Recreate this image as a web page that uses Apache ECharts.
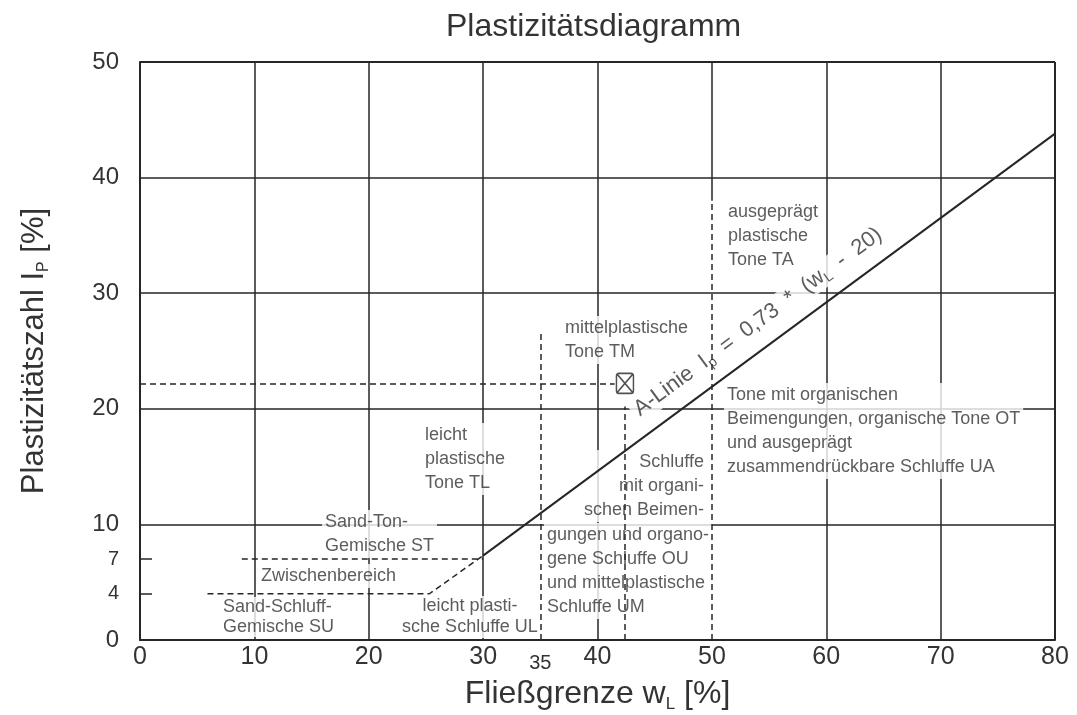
<!DOCTYPE html>
<html><head><meta charset="utf-8">
<script src="https://cdn.jsdelivr.net/npm/echarts@6/dist/echarts.min.js"></script>
<style>html,body{margin:0;padding:0;background:#fff}#c{width:1077px;height:715px}</style>
</head><body><div id="c"></div>
<script>
// ---- data ----
const xTickValues = [0, 10, 20, 30, 35, 40, 50, 60, 70, 80];
const yTickValues = [0, 4, 7, 10, 20, 30, 40, 50];
const yMinorTicks = [4, 7];
const vGridX = [10, 20, 30, 40, 60, 70];
const hGridY = [10, 20, 30, 40];
const xRange = [0, 80];
const yRange = [0, 50];
// A-Linie  I_p = 0,73 * (w_L - 20)
const aLineWL = [30, 80];
const aLineIp = [7.3, 43.8];
// Zwischenbereich boundaries (dashed)
const zwUpperWL = [8.9, 30];
const zwUpperIp = [7, 7];
const zwLowerWL = [5.9, 25.3, 30];
const zwLowerIp = [4, 4, 7.3];
// dashed vertical limits: w_L and upper end
const dashedVertWL = [35, 50];
const dashedVertTop = [26.7, 38];
// solid upper part of the w_L = 50 grid line
const grid50From = 38, grid50To = 50;
// sample point
const sampleWL = [42.4];
const sampleIp = [22.2];

const annotations = [
  { text: 'ausgeprägt\nplastische\nTone TA', x: 51.15, y: 38.06, align: 'left' },
  { text: 'mittelplastische\nTone TM', x: 36.9, y: 28.03, align: 'left' },
  { text: 'Tone mit organischen\nBeimengungen, organische Tone OT\nund ausgeprägt\nzusammendrückbare Schluffe UA', x: 51.06, y: 22.23, align: 'left' },
  { text: 'leicht\nplastische\nTone TL', x: 24.66, y: 18.77, align: 'left' },
  { text: 'Schluffe\nmit organi-\nschen Beimen-', x: 49.57, y: 16.44, align: 'right' },
  { text: 'gungen und organo-\ngene Schluffe OU\nund mittelplastische\nSchluffe UM', x: 35.32, y: 10.12, align: 'left' },
  { text: 'Sand-Ton-\nGemische ST', x: 15.91, y: 11.25, align: 'left' },
  { text: 'Zwischenbereich', x: 10.32, y: 6.57, align: 'left' },
  { text: 'Sand-Schluff-\nGemische SU', x: 6.99, y: 3.72, align: 'left', lh: 20 },
  { text: 'leicht plasti-\nsche Schluffe UL', x: 28.85, y: 3.81, align: 'center', lh: 21 }
];
const aLabelPos = [54.03, 27.51];

// ---- styles ----
const LINE = '#262626';
const TEXT = '#333';
const FONT = '"Liberation Sans", Arial, sans-serif';

function seg(x1, y1, x2, y2) { return { coords: [[x1, y1], [x2, y2]] }; }

const solidSegs = [
  ...vGridX.map(x => seg(x, yRange[0], x, yRange[1])),
  ...hGridY.map(y => seg(xRange[0], y, xRange[1], y)),
  seg(50, grid50From, 50, grid50To)
];
const dashedSegs = [
  ...dashedVertWL.map((x, i) => seg(x, 0, x, dashedVertTop[i])),
  seg(0, sampleIp[0], sampleWL[0] - 0.9, sampleIp[0]),
  seg(sampleWL[0], 0, sampleWL[0], 20.2)
];
const frameSegs = [
  seg(xRange[0], yRange[0], xRange[1], yRange[0]),
  seg(xRange[1], yRange[0], xRange[1], yRange[1]),
  seg(xRange[1], yRange[1], xRange[0], yRange[1]),
  seg(xRange[0], yRange[1], xRange[0], yRange[0])
];

const chart = echarts.init(document.getElementById('c'), null, { renderer: 'canvas' });
chart.setOption({
  backgroundColor: '#fff',
  animation: false,
  textStyle: { fontFamily: FONT, color: TEXT },
  title: {
    text: 'Plastizitätsdiagramm', left: 441, top: 6,
    textStyle: { fontFamily: FONT, fontSize: 32, fontWeight: 'normal', color: TEXT }
  },
  grid: {
    left: 140, right: 22, top: 62, bottom: 75,
    show: false, outerBoundsMode: 'none'
  },
  xAxis: {
    type: 'value', min: xRange[0], max: xRange[1], interval: 10,
    axisLine: { show: true, lineStyle: { color: LINE, width: 2 } },
    axisTick: { show: false },
    splitLine: { show: false },
    axisLabel: {
      customValues: xTickValues, margin: 5, color: TEXT, fontSize: 25,
      formatter: v => v === 35 ? '{s|35}' : String(v),
      rich: { s: { fontSize: 20, color: TEXT, padding: [8, 0, 0, 0] } }
    },
    name: '{a|Fließgrenze w}{s|L}{a| [%]}',
    nameLocation: 'middle', nameGap: 30,
    nameTextStyle: {
      rich: {
        a: { fontSize: 32, color: TEXT, fontFamily: FONT },
        s: { fontSize: 17, color: TEXT, fontFamily: FONT, padding: [20, 0, 0, 0] }
      }
    }
  },
  yAxis: {
    type: 'value', min: yRange[0], max: yRange[1], interval: 10,
    axisLine: { show: true, lineStyle: { color: LINE, width: 2 } },
    axisTick: { show: true, inside: true, length: 12, customValues: yMinorTicks, lineStyle: { color: LINE, width: 1.5 } },
    splitLine: { show: false },
    axisLabel: {
      customValues: yTickValues, margin: 21, color: TEXT, fontSize: 24,
      formatter: v => (v === 4 || v === 7) ? '{s|' + v + '}' : String(v),
      rich: { s: { fontSize: 20, color: TEXT } }
    },
    name: '{a|Plastizitätszahl I}{s|P}{a| [%]}',
    nameLocation: 'middle', nameGap: 88,
    nameTextStyle: {
      rich: {
        a: { fontSize: 31, color: TEXT, fontFamily: FONT },
        s: { fontSize: 16, color: TEXT, fontFamily: FONT, padding: [20, 0, 0, 0] }
      }
    }
  },
  series: [
    {
      type: 'lines', coordinateSystem: 'cartesian2d', z: 1, silent: true,
      lineStyle: { color: LINE, width: 1.5, opacity: 1 }, data: solidSegs
    },
    {
      type: 'scatter', z: 2, silent: true, symbolSize: 1,
      itemStyle: { color: 'transparent' },
      data: annotations.map(a => ({
        value: [a.x, a.y],
        label: {
          show: true, position: 'inside', formatter: a.text,
          align: a.align, verticalAlign: 'top',
          lineHeight: a.lh || 24, fontSize: 18, color: TEXT, fontFamily: FONT,
          backgroundColor: '#fff', padding: [0, 3, 0, 3]
        }
      }))
    },
    {
      type: 'scatter', z: 2, silent: true, symbolSize: 1,
      itemStyle: { color: 'transparent' },
      data: [{
        value: aLabelPos,
        label: {
          show: true, position: 'inside', rotate: 36.4, align: 'center', verticalAlign: 'middle',
          formatter: '{a|A-Linie  I}{s|p}{a|  =  0,73  *  (w}{s|L}{a|  -  20)}',
          backgroundColor: '#fff', padding: [0, 4, 0, 4],
          rich: {
            a: { fontSize: 22, color: TEXT, fontFamily: FONT },
            s: { fontSize: 14, color: TEXT, fontFamily: FONT, padding: [12, 0, 0, 0] }
          }
        }
      }]
    },
    {
      type: 'lines', coordinateSystem: 'cartesian2d', z: 3, silent: true,
      lineStyle: { color: LINE, width: 1.5, type: [6, 4], opacity: 1 }, data: dashedSegs
    },
    {
      type: 'line', z: 3, silent: true, symbol: 'none',
      lineStyle: { color: LINE, width: 1.5, type: [6, 4] },
      data: zwUpperWL.map((x, i) => [x, zwUpperIp[i]])
    },
    {
      type: 'line', z: 3, silent: true, symbol: 'none',
      lineStyle: { color: LINE, width: 1.5, type: [6, 4] },
      data: zwLowerWL.map((x, i) => [x, zwLowerIp[i]])
    },
    {
      type: 'line', z: 4, silent: true, symbol: 'none',
      lineStyle: { color: LINE, width: 2 },
      data: aLineWL.map((x, i) => [x, aLineIp[i]])
    },
    {
      type: 'lines', coordinateSystem: 'cartesian2d', z: 5, silent: true,
      lineStyle: { color: LINE, width: 2, opacity: 1 }, data: frameSegs
    },
    {
      type: 'scatter', z: 5, silent: true,
      symbol: 'path://M3,0L17,0Q20,0 20,3L20,19Q20,22 17,22L3,22Q0,22 0,19L0,3Q0,0 3,0Z M1,1L19,21 M19,1L1,21',
      symbolSize: [17, 20],
      itemStyle: { color: '#fff', borderColor: LINE, borderWidth: 1.6 },
      data: sampleWL.map((x, i) => [x, sampleIp[i]])
    }
  ]
});
</script></body></html>
